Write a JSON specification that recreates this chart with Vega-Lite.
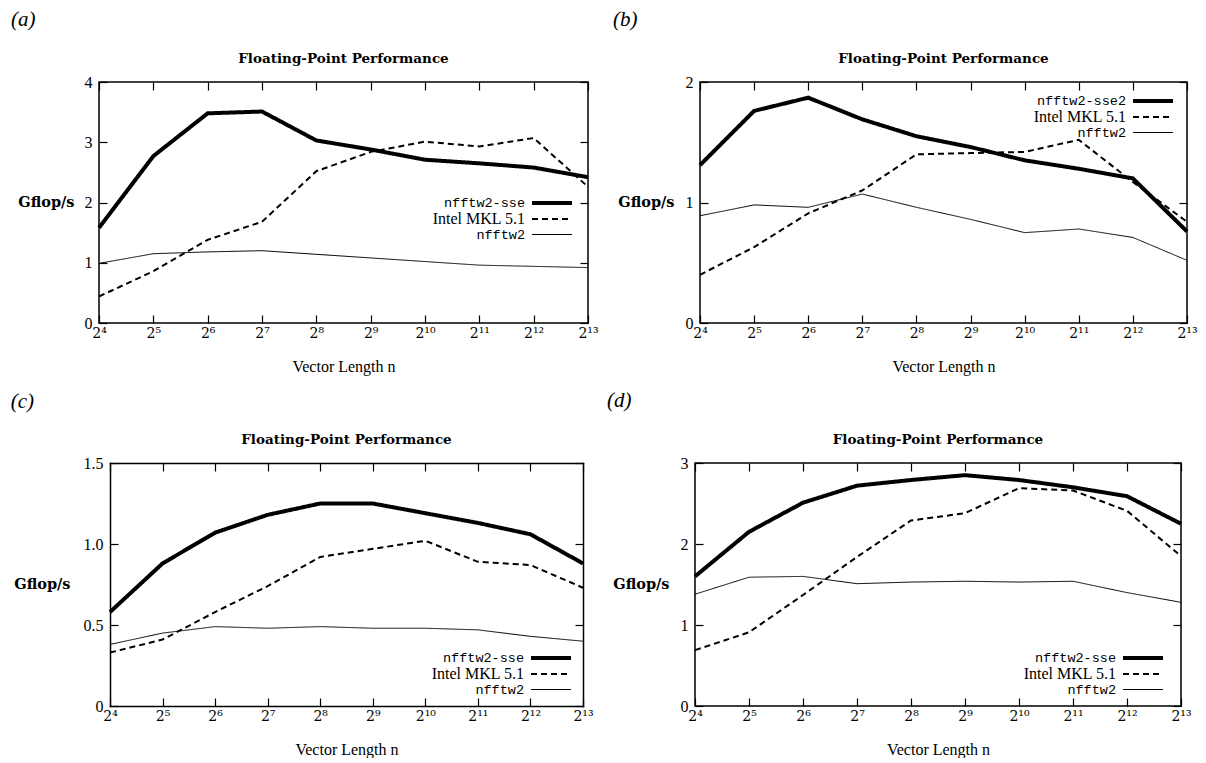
{
"$schema": "https://vega.github.io/schema/vega-lite/v6.json",
"padding": {"left": 10, "top": 8, "right": 0, "bottom": 0},
"background": "white",
"data": {"values": [
{"p":"a","s":"nfftw2-sse","n":16,"g":1.58},{"p":"a","s":"nfftw2-sse","n":32,"g":2.77},{"p":"a","s":"nfftw2-sse","n":64,"g":3.48},{"p":"a","s":"nfftw2-sse","n":128,"g":3.51},{"p":"a","s":"nfftw2-sse","n":256,"g":3.03},{"p":"a","s":"nfftw2-sse","n":512,"g":2.88},{"p":"a","s":"nfftw2-sse","n":1024,"g":2.71},{"p":"a","s":"nfftw2-sse","n":2048,"g":2.65},{"p":"a","s":"nfftw2-sse","n":4096,"g":2.58},{"p":"a","s":"nfftw2-sse","n":8192,"g":2.42},
{"p":"a","s":"Intel MKL 5.1","n":16,"g":0.44},{"p":"a","s":"Intel MKL 5.1","n":32,"g":0.86},{"p":"a","s":"Intel MKL 5.1","n":64,"g":1.38},{"p":"a","s":"Intel MKL 5.1","n":128,"g":1.68},{"p":"a","s":"Intel MKL 5.1","n":256,"g":2.52},{"p":"a","s":"Intel MKL 5.1","n":512,"g":2.84},{"p":"a","s":"Intel MKL 5.1","n":1024,"g":3.01},{"p":"a","s":"Intel MKL 5.1","n":2048,"g":2.93},{"p":"a","s":"Intel MKL 5.1","n":4096,"g":3.07},{"p":"a","s":"Intel MKL 5.1","n":8192,"g":2.26},
{"p":"a","s":"nfftw2","n":16,"g":0.99},{"p":"a","s":"nfftw2","n":32,"g":1.15},{"p":"a","s":"nfftw2","n":64,"g":1.18},{"p":"a","s":"nfftw2","n":128,"g":1.2},{"p":"a","s":"nfftw2","n":256,"g":1.14},{"p":"a","s":"nfftw2","n":512,"g":1.08},{"p":"a","s":"nfftw2","n":1024,"g":1.02},{"p":"a","s":"nfftw2","n":2048,"g":0.96},{"p":"a","s":"nfftw2","n":4096,"g":0.94},{"p":"a","s":"nfftw2","n":8192,"g":0.92},
{"p":"b","s":"nfftw2-sse2","n":16,"g":1.31},{"p":"b","s":"nfftw2-sse2","n":32,"g":1.76},{"p":"b","s":"nfftw2-sse2","n":64,"g":1.87},{"p":"b","s":"nfftw2-sse2","n":128,"g":1.69},{"p":"b","s":"nfftw2-sse2","n":256,"g":1.55},{"p":"b","s":"nfftw2-sse2","n":512,"g":1.46},{"p":"b","s":"nfftw2-sse2","n":1024,"g":1.35},{"p":"b","s":"nfftw2-sse2","n":2048,"g":1.28},{"p":"b","s":"nfftw2-sse2","n":4096,"g":1.2},{"p":"b","s":"nfftw2-sse2","n":8192,"g":0.76},
{"p":"b","s":"Intel MKL 5.1","n":16,"g":0.4},{"p":"b","s":"Intel MKL 5.1","n":32,"g":0.63},{"p":"b","s":"Intel MKL 5.1","n":64,"g":0.91},{"p":"b","s":"Intel MKL 5.1","n":128,"g":1.1},{"p":"b","s":"Intel MKL 5.1","n":256,"g":1.4},{"p":"b","s":"Intel MKL 5.1","n":512,"g":1.41},{"p":"b","s":"Intel MKL 5.1","n":1024,"g":1.42},{"p":"b","s":"Intel MKL 5.1","n":2048,"g":1.52},{"p":"b","s":"Intel MKL 5.1","n":4096,"g":1.17},{"p":"b","s":"Intel MKL 5.1","n":8192,"g":0.84},
{"p":"b","s":"nfftw2","n":16,"g":0.89},{"p":"b","s":"nfftw2","n":32,"g":0.98},{"p":"b","s":"nfftw2","n":64,"g":0.96},{"p":"b","s":"nfftw2","n":128,"g":1.07},{"p":"b","s":"nfftw2","n":256,"g":0.96},{"p":"b","s":"nfftw2","n":512,"g":0.86},{"p":"b","s":"nfftw2","n":1024,"g":0.75},{"p":"b","s":"nfftw2","n":2048,"g":0.78},{"p":"b","s":"nfftw2","n":4096,"g":0.71},{"p":"b","s":"nfftw2","n":8192,"g":0.52},
{"p":"c","s":"nfftw2-sse","n":16,"g":0.58},{"p":"c","s":"nfftw2-sse","n":32,"g":0.88},{"p":"c","s":"nfftw2-sse","n":64,"g":1.07},{"p":"c","s":"nfftw2-sse","n":128,"g":1.18},{"p":"c","s":"nfftw2-sse","n":256,"g":1.25},{"p":"c","s":"nfftw2-sse","n":512,"g":1.25},{"p":"c","s":"nfftw2-sse","n":1024,"g":1.19},{"p":"c","s":"nfftw2-sse","n":2048,"g":1.13},{"p":"c","s":"nfftw2-sse","n":4096,"g":1.06},{"p":"c","s":"nfftw2-sse","n":8192,"g":0.88},
{"p":"c","s":"Intel MKL 5.1","n":16,"g":0.33},{"p":"c","s":"Intel MKL 5.1","n":32,"g":0.41},{"p":"c","s":"Intel MKL 5.1","n":64,"g":0.58},{"p":"c","s":"Intel MKL 5.1","n":128,"g":0.74},{"p":"c","s":"Intel MKL 5.1","n":256,"g":0.92},{"p":"c","s":"Intel MKL 5.1","n":512,"g":0.97},{"p":"c","s":"Intel MKL 5.1","n":1024,"g":1.02},{"p":"c","s":"Intel MKL 5.1","n":2048,"g":0.89},{"p":"c","s":"Intel MKL 5.1","n":4096,"g":0.87},{"p":"c","s":"Intel MKL 5.1","n":8192,"g":0.73},
{"p":"c","s":"nfftw2","n":16,"g":0.38},{"p":"c","s":"nfftw2","n":32,"g":0.45},{"p":"c","s":"nfftw2","n":64,"g":0.49},{"p":"c","s":"nfftw2","n":128,"g":0.48},{"p":"c","s":"nfftw2","n":256,"g":0.49},{"p":"c","s":"nfftw2","n":512,"g":0.48},{"p":"c","s":"nfftw2","n":1024,"g":0.48},{"p":"c","s":"nfftw2","n":2048,"g":0.47},{"p":"c","s":"nfftw2","n":4096,"g":0.43},{"p":"c","s":"nfftw2","n":8192,"g":0.4},
{"p":"d","s":"nfftw2-sse","n":16,"g":1.6},{"p":"d","s":"nfftw2-sse","n":32,"g":2.15},{"p":"d","s":"nfftw2-sse","n":64,"g":2.51},{"p":"d","s":"nfftw2-sse","n":128,"g":2.72},{"p":"d","s":"nfftw2-sse","n":256,"g":2.79},{"p":"d","s":"nfftw2-sse","n":512,"g":2.85},{"p":"d","s":"nfftw2-sse","n":1024,"g":2.79},{"p":"d","s":"nfftw2-sse","n":2048,"g":2.7},{"p":"d","s":"nfftw2-sse","n":4096,"g":2.59},{"p":"d","s":"nfftw2-sse","n":8192,"g":2.25},
{"p":"d","s":"Intel MKL 5.1","n":16,"g":0.69},{"p":"d","s":"Intel MKL 5.1","n":32,"g":0.91},{"p":"d","s":"Intel MKL 5.1","n":64,"g":1.37},{"p":"d","s":"Intel MKL 5.1","n":128,"g":1.84},{"p":"d","s":"Intel MKL 5.1","n":256,"g":2.29},{"p":"d","s":"Intel MKL 5.1","n":512,"g":2.38},{"p":"d","s":"Intel MKL 5.1","n":1024,"g":2.69},{"p":"d","s":"Intel MKL 5.1","n":2048,"g":2.66},{"p":"d","s":"Intel MKL 5.1","n":4096,"g":2.41},{"p":"d","s":"Intel MKL 5.1","n":8192,"g":1.85},
{"p":"d","s":"nfftw2","n":16,"g":1.38},{"p":"d","s":"nfftw2","n":32,"g":1.59},{"p":"d","s":"nfftw2","n":64,"g":1.6},{"p":"d","s":"nfftw2","n":128,"g":1.51},{"p":"d","s":"nfftw2","n":256,"g":1.53},{"p":"d","s":"nfftw2","n":512,"g":1.54},{"p":"d","s":"nfftw2","n":1024,"g":1.53},{"p":"d","s":"nfftw2","n":2048,"g":1.54},{"p":"d","s":"nfftw2","n":4096,"g":1.4},{"p":"d","s":"nfftw2","n":8192,"g":1.28}
]},
"spacing": 14,
"resolve": {"scale": {"strokeWidth": "independent", "strokeDash": "independent"}, "legend": {"strokeWidth": "independent", "strokeDash": "independent"}},
"vconcat": [
{
"spacing": 14,
"resolve": {"scale": {"strokeWidth": "independent", "strokeDash": "independent"}, "legend": {"strokeWidth": "independent", "strokeDash": "independent"}},
"hconcat": [
{
"title": {"text": "(a)", "anchor": "start", "frame": "bounds", "font": "Liberation Serif", "fontStyle": "italic", "fontWeight": "normal", "fontSize": 21, "offset": 21, "dx": -6},
"vconcat": [{
"width": 489, "height": 241,
"title": {"text": "Floating-Point Performance", "anchor": "middle", "frame": "group", "font": "DejaVu Serif", "fontWeight": "bold", "fontSize": 13.5, "offset": 9},
"transform": [{"filter": "datum.p == 'a'"}],
"layer": [
{"mark": {"type": "line", "color": "black"},
"encoding": {
"x": {"field": "n", "type": "quantitative", "scale": {"type": "log", "base": 2, "domain": [16, 8192], "nice": false}, "axis": {"orient": "bottom", "values": [16,32,64,128,256,512,1024,2048,4096,8192], "labelExpr": "'2' + ['⁴','⁵','⁶','⁷','⁸','⁹','¹⁰','¹¹','¹²','¹³'][round(log(datum.value)/LN2) - 4]", "title": "Vector Length n"}},
"y": {"field": "g", "type": "quantitative", "scale": {"domain": [0, 4], "nice": false}, "axis": {"orient": "left", "values": [0,1,2,3,4], "labelExpr": "'' + datum.value", "title": "Gflop/s", "titleX": -25, "titleY": 120.5}},
"strokeWidth": {"field": "s", "type": "nominal", "scale": {"type": "ordinal", "domain": ["nfftw2-sse", "Intel MKL 5.1", "nfftw2"], "range": [4, 2, 1]}, "legend": {"title": null, "orient": "none", "legendX": 433, "legendY": 114, "encoding": {"symbols": {"x": {"value": 20}}, "labels": {"x": {"value": -7}, "align": {"value": "right"}, "font": {"condition": {"test": "datum.label == 'Intel MKL 5.1'", "value": "Liberation Serif"}, "value": "Liberation Mono"}, "fontSize": {"condition": {"test": "datum.label == 'Intel MKL 5.1'", "value": 16}, "value": 13.5}}}}},
"strokeDash": {"field": "s", "type": "nominal", "scale": {"domain": ["nfftw2-sse", "Intel MKL 5.1", "nfftw2"], "range": [[1, 0], [6, 4], [1, 0]]}, "legend": {"title": null, "orient": "none", "legendX": 433, "legendY": 114, "encoding": {"symbols": {"x": {"value": 20}}, "labels": {"x": {"value": -7}, "align": {"value": "right"}, "font": {"condition": {"test": "datum.label == 'Intel MKL 5.1'", "value": "Liberation Serif"}, "value": "Liberation Mono"}, "fontSize": {"condition": {"test": "datum.label == 'Intel MKL 5.1'", "value": 16}, "value": 13.5}}}}}
}},
{"mark": {"type": "line", "color": "black", "strokeOpacity": 0},
"encoding": {
"x": {"field": "n", "type": "quantitative", "scale": {"type": "log", "base": 2, "domain": [16, 8192], "nice": false}, "axis": {"orient": "top", "values": [16,32,64,128,256,512,1024,2048,4096,8192], "labels": false, "title": null}},
"y": {"field": "g", "type": "quantitative", "scale": {"domain": [0, 4], "nice": false}, "axis": {"orient": "right", "values": [0,1,2,3,4], "labels": false, "title": null}},
"detail": {"field": "s"}
}}
],
"resolve": {"axis": {"x": "independent", "y": "independent"}}
}]
},
{
"title": {"text": "(b)", "anchor": "start", "frame": "bounds", "font": "Liberation Serif", "fontStyle": "italic", "fontWeight": "normal", "fontSize": 21, "offset": 21, "dx": -4},
"vconcat": [{
"width": 487, "height": 241,
"title": {"text": "Floating-Point Performance", "anchor": "middle", "frame": "group", "font": "DejaVu Serif", "fontWeight": "bold", "fontSize": 13.5, "offset": 9},
"transform": [{"filter": "datum.p == 'b'"}],
"layer": [
{"mark": {"type": "line", "color": "black"},
"encoding": {
"x": {"field": "n", "type": "quantitative", "scale": {"type": "log", "base": 2, "domain": [16, 8192], "nice": false}, "axis": {"orient": "bottom", "values": [16,32,64,128,256,512,1024,2048,4096,8192], "labelExpr": "'2' + ['⁴','⁵','⁶','⁷','⁸','⁹','¹⁰','¹¹','¹²','¹³'][round(log(datum.value)/LN2) - 4]", "title": "Vector Length n"}},
"y": {"field": "g", "type": "quantitative", "scale": {"domain": [0, 2], "nice": false}, "axis": {"orient": "left", "values": [0,1,2], "labelExpr": "'' + datum.value", "title": "Gflop/s", "titleX": -26, "titleY": 120.5}},
"strokeWidth": {"field": "s", "type": "nominal", "scale": {"type": "ordinal", "domain": ["nfftw2-sse2", "Intel MKL 5.1", "nfftw2"], "range": [4, 2, 1]}, "legend": {"title": null, "orient": "none", "legendX": 433, "legendY": 12, "encoding": {"symbols": {"x": {"value": 20}}, "labels": {"x": {"value": -7}, "align": {"value": "right"}, "font": {"condition": {"test": "datum.label == 'Intel MKL 5.1'", "value": "Liberation Serif"}, "value": "Liberation Mono"}, "fontSize": {"condition": {"test": "datum.label == 'Intel MKL 5.1'", "value": 16}, "value": 13.5}}}}},
"strokeDash": {"field": "s", "type": "nominal", "scale": {"domain": ["nfftw2-sse2", "Intel MKL 5.1", "nfftw2"], "range": [[1, 0], [6, 4], [1, 0]]}, "legend": {"title": null, "orient": "none", "legendX": 433, "legendY": 12, "encoding": {"symbols": {"x": {"value": 20}}, "labels": {"x": {"value": -7}, "align": {"value": "right"}, "font": {"condition": {"test": "datum.label == 'Intel MKL 5.1'", "value": "Liberation Serif"}, "value": "Liberation Mono"}, "fontSize": {"condition": {"test": "datum.label == 'Intel MKL 5.1'", "value": 16}, "value": 13.5}}}}}
}},
{"mark": {"type": "line", "color": "black", "strokeOpacity": 0},
"encoding": {
"x": {"field": "n", "type": "quantitative", "scale": {"type": "log", "base": 2, "domain": [16, 8192], "nice": false}, "axis": {"orient": "top", "values": [16,32,64,128,256,512,1024,2048,4096,8192], "labels": false, "title": null}},
"y": {"field": "g", "type": "quantitative", "scale": {"domain": [0, 2], "nice": false}, "axis": {"orient": "right", "values": [0,1,2], "labels": false, "title": null}},
"detail": {"field": "s"}
}}
],
"resolve": {"axis": {"x": "independent", "y": "independent"}}
}]
}
]
},
{
"spacing": 13,
"resolve": {"scale": {"strokeWidth": "independent", "strokeDash": "independent"}, "legend": {"strokeWidth": "independent", "strokeDash": "independent"}},
"hconcat": [
{
"title": {"text": "(c)", "anchor": "start", "frame": "bounds", "font": "Liberation Serif", "fontStyle": "italic", "fontWeight": "normal", "fontSize": 21, "offset": 21, "dx": -3},
"vconcat": [{
"width": 484, "height": 243,
"view": {"stroke": null},
"title": {"text": "Floating-Point Performance", "anchor": "middle", "frame": "group", "font": "DejaVu Serif", "fontWeight": "bold", "fontSize": 13.5, "offset": 9, "dx": 5.5},
"transform": [{"filter": "datum.p == 'c'"}],
"layer": [
{"mark": {"type": "line", "color": "black"},
"encoding": {
"x": {"field": "n", "type": "quantitative", "scale": {"type": "log", "base": 2, "domain": [16, 8192], "nice": false, "range": [11, 484]}, "axis": {"orient": "bottom", "domain": true, "domainColor": "black", "domainWidth": 1.5, "domainCap": "square", "values": [16,32,64,128,256,512,1024,2048,4096,8192], "labelExpr": "'2' + ['⁴','⁵','⁶','⁷','⁸','⁹','¹⁰','¹¹','¹²','¹³'][round(log(datum.value)/LN2) - 4]", "title": "Vector Length n"}},
"y": {"field": "g", "type": "quantitative", "scale": {"domain": [0, 1.5], "nice": false}, "axis": {"orient": "left", "offset": -11, "domain": true, "domainColor": "black", "domainWidth": 1.5, "domainCap": "square", "values": [0,0.5,1,1.5], "labelExpr": "datum.value == 0 ? '0' : format(datum.value, '.1f')", "title": "Gflop/s", "titleX": -40, "titleY": 121.5}},
"strokeWidth": {"field": "s", "type": "nominal", "scale": {"type": "ordinal", "domain": ["nfftw2-sse", "Intel MKL 5.1", "nfftw2"], "range": [4, 2, 1]}, "legend": {"title": null, "orient": "none", "legendX": 432, "legendY": 188, "encoding": {"symbols": {"x": {"value": 20}}, "labels": {"x": {"value": -7}, "align": {"value": "right"}, "font": {"condition": {"test": "datum.label == 'Intel MKL 5.1'", "value": "Liberation Serif"}, "value": "Liberation Mono"}, "fontSize": {"condition": {"test": "datum.label == 'Intel MKL 5.1'", "value": 16}, "value": 13.5}}}}},
"strokeDash": {"field": "s", "type": "nominal", "scale": {"domain": ["nfftw2-sse", "Intel MKL 5.1", "nfftw2"], "range": [[1, 0], [6, 4], [1, 0]]}, "legend": {"title": null, "orient": "none", "legendX": 432, "legendY": 188, "encoding": {"symbols": {"x": {"value": 20}}, "labels": {"x": {"value": -7}, "align": {"value": "right"}, "font": {"condition": {"test": "datum.label == 'Intel MKL 5.1'", "value": "Liberation Serif"}, "value": "Liberation Mono"}, "fontSize": {"condition": {"test": "datum.label == 'Intel MKL 5.1'", "value": 16}, "value": 13.5}}}}}
}},
{"mark": {"type": "line", "color": "black", "strokeOpacity": 0},
"encoding": {
"x": {"field": "n", "type": "quantitative", "scale": {"type": "log", "base": 2, "domain": [16, 8192], "nice": false, "range": [11, 484]}, "axis": {"orient": "top", "domain": true, "domainColor": "black", "domainWidth": 1.5, "domainCap": "square", "values": [16,32,64,128,256,512,1024,2048,4096,8192], "labels": false, "title": null}},
"y": {"field": "g", "type": "quantitative", "scale": {"domain": [0, 1.5], "nice": false}, "axis": {"orient": "right", "domain": true, "domainColor": "black", "domainWidth": 1.5, "domainCap": "square", "values": [0,0.5,1,1.5], "labels": false, "title": null}},
"detail": {"field": "s"}
}}
],
"resolve": {"axis": {"x": "independent", "y": "independent"}}
}]
},
{
"title": {"text": "(d)", "anchor": "start", "frame": "bounds", "font": "Liberation Serif", "fontStyle": "italic", "fontWeight": "normal", "fontSize": 21, "offset": 21, "dx": -5},
"vconcat": [{
"width": 486, "height": 243,
"title": {"text": "Floating-Point Performance", "anchor": "middle", "frame": "group", "font": "DejaVu Serif", "fontWeight": "bold", "fontSize": 13.5, "offset": 9},
"transform": [{"filter": "datum.p == 'd'"}],
"layer": [
{"mark": {"type": "line", "color": "black"},
"encoding": {
"x": {"field": "n", "type": "quantitative", "scale": {"type": "log", "base": 2, "domain": [16, 8192], "nice": false}, "axis": {"orient": "bottom", "values": [16,32,64,128,256,512,1024,2048,4096,8192], "labelExpr": "'2' + ['⁴','⁵','⁶','⁷','⁸','⁹','¹⁰','¹¹','¹²','¹³'][round(log(datum.value)/LN2) - 4]", "title": "Vector Length n"}},
"y": {"field": "g", "type": "quantitative", "scale": {"domain": [0, 3], "nice": false}, "axis": {"orient": "left", "values": [0,1,2,3], "labelExpr": "'' + datum.value", "title": "Gflop/s", "titleX": -26, "titleY": 121.5}},
"strokeWidth": {"field": "s", "type": "nominal", "scale": {"type": "ordinal", "domain": ["nfftw2-sse", "Intel MKL 5.1", "nfftw2"], "range": [4, 2, 1]}, "legend": {"title": null, "orient": "none", "legendX": 428, "legendY": 188, "encoding": {"symbols": {"x": {"value": 20}}, "labels": {"x": {"value": -7}, "align": {"value": "right"}, "font": {"condition": {"test": "datum.label == 'Intel MKL 5.1'", "value": "Liberation Serif"}, "value": "Liberation Mono"}, "fontSize": {"condition": {"test": "datum.label == 'Intel MKL 5.1'", "value": 16}, "value": 13.5}}}}},
"strokeDash": {"field": "s", "type": "nominal", "scale": {"domain": ["nfftw2-sse", "Intel MKL 5.1", "nfftw2"], "range": [[1, 0], [6, 4], [1, 0]]}, "legend": {"title": null, "orient": "none", "legendX": 428, "legendY": 188, "encoding": {"symbols": {"x": {"value": 20}}, "labels": {"x": {"value": -7}, "align": {"value": "right"}, "font": {"condition": {"test": "datum.label == 'Intel MKL 5.1'", "value": "Liberation Serif"}, "value": "Liberation Mono"}, "fontSize": {"condition": {"test": "datum.label == 'Intel MKL 5.1'", "value": 16}, "value": 13.5}}}}}
}},
{"mark": {"type": "line", "color": "black", "strokeOpacity": 0},
"encoding": {
"x": {"field": "n", "type": "quantitative", "scale": {"type": "log", "base": 2, "domain": [16, 8192], "nice": false}, "axis": {"orient": "top", "values": [16,32,64,128,256,512,1024,2048,4096,8192], "labels": false, "title": null}},
"y": {"field": "g", "type": "quantitative", "scale": {"domain": [0, 3], "nice": false}, "axis": {"orient": "right", "values": [0,1,2,3], "labels": false, "title": null}},
"detail": {"field": "s"}
}}
],
"resolve": {"axis": {"x": "independent", "y": "independent"}}
}]
}
]
}
],
"config": {
"view": {"stroke": "black", "strokeWidth": 1.5},
"axis": {"grid": false, "domain": false, "ticks": true, "tickColor": "black", "tickWidth": 1.2, "tickSize": -8, "labelFlush": false, "labelOverlap": false, "labelBound": false, "labelColor": "black", "labelFont": "Liberation Serif", "labelFontSize": 16, "titleColor": "black"},
"axisX": {"labelPadding": 11, "labelFont": "DejaVu Serif", "labelFontSize": 14, "titleFont": "Liberation Serif", "titleFontSize": 16, "titleFontWeight": "normal", "titlePadding": 18},
"axisY": {"labelPadding": 15, "titleFont": "DejaVu Serif", "titleFontSize": 14.5, "titleFontWeight": "bold", "titleAngle": 0, "titleAlign": "right", "titleBaseline": "middle"},
"legend": {"symbolType": "M-4,0H4", "symbolSize": 100, "symbolStrokeColor": "black", "labelFont": "Liberation Mono", "labelFontSize": 13.5, "labelColor": "black", "labelLimit": 400, "rowPadding": 0, "padding": 0, "offset": 0}
}
}
